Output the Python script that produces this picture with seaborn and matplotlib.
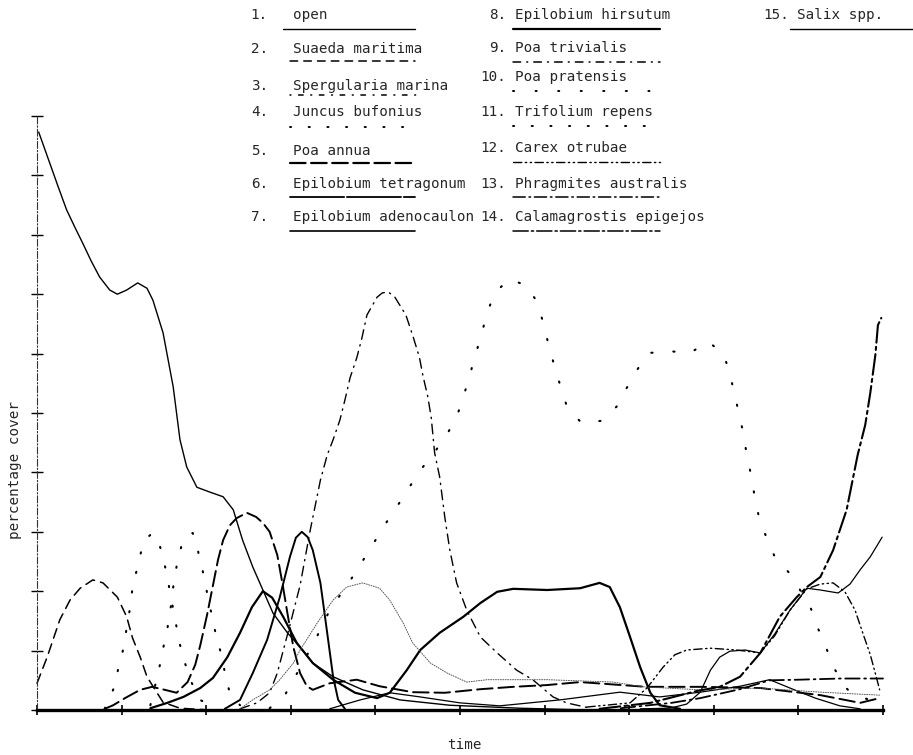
import matplotlib
matplotlib.use("Agg")
import matplotlib.pyplot as plt
from matplotlib.lines import Line2D
import numpy as np
import pandas as pd
import seaborn as sns

# ---------------------------------------------------------------------------
# Percentage cover of each species (and open ground) along the time axis
# ---------------------------------------------------------------------------
t_open = [0.02, 0.15, 0.25, 0.35, 0.45, 0.54, 0.64, 0.74, 0.86, 0.95, 1.06, 1.19, 1.30, 1.37, 1.49,
          1.61, 1.69, 1.77, 1.89, 2.04, 2.20, 2.32, 2.43, 2.55, 2.67, 2.79, 2.96, 3.11, 3.26, 3.50,
          3.85, 4.29, 4.88, 5.71, 6.50]
c_open = [97.3, 92.1, 88.1, 84.2, 81.2, 78.6, 75.6, 72.9, 70.7, 70.0, 70.7, 71.9, 71.0, 69.0, 63.5,
          54.4, 45.5, 40.9, 37.5, 36.7, 35.9, 33.7, 28.6, 24.1, 20.2, 16.3, 13.0, 10.6, 7.9, 5.6,
          3.4, 1.7, 0.8, 0.3, 0.0]

t_suaeda = [0.0, 0.12, 0.27, 0.39, 0.51, 0.66, 0.78, 0.95, 1.06, 1.13, 1.22, 1.30, 1.37, 1.49, 1.69, 2.04]
c_suaeda = [4.5, 8.9, 15.2, 18.5, 20.5, 21.9, 21.4, 19.0, 15.7, 12.1, 8.9, 5.6, 4.0, 1.3, 0.3, 0.0]

t_spergularia = [0.80, 0.90, 0.96, 1.02, 1.06, 1.10, 1.13, 1.19, 1.25, 1.31, 1.35, 1.39, 1.44, 1.48,
                 1.54, 1.58, 1.63, 1.67, 1.73, 1.81, 1.93, 2.10]
c_spergularia = [0.2, 3.4, 6.9, 10.3, 13.8, 17.2, 20.7, 24.2, 27.8, 29.1, 29.6, 29.6, 28.3, 26.1,
                 22.6, 19.0, 15.7, 12.1, 8.8, 5.1, 1.7, 0.3]

t_juncus = [1.34, 1.44, 1.49, 1.54, 1.58, 1.61, 1.65, 1.71, 1.78, 1.84, 1.88, 1.91, 1.97, 2.02, 2.07,
            2.12, 2.19, 2.23, 2.28, 2.40]
c_juncus = [0.8, 6.7, 10.3, 13.6, 17.2, 20.7, 24.2, 27.8, 29.4, 29.8, 28.6, 26.3, 22.7, 19.0, 15.7,
            12.3, 8.8, 5.4, 2.9, 0.8]

t_poa_annua = [0.80, 0.90, 1.04, 1.22, 1.36, 1.51, 1.65, 1.78, 1.87, 1.93, 2.01, 2.08, 2.14, 2.20,
               2.28, 2.36, 2.48, 2.59, 2.67, 2.75, 2.84, 2.90, 2.96, 3.03, 3.11, 3.19, 3.26, 3.46,
               3.78, 4.05, 4.44, 4.82, 5.24, 5.63, 6.03, 6.42, 6.81, 7.20, 7.84, 8.55, 9.26, 9.73, 9.96]
c_poa_annua = [0.2, 0.8, 2.0, 3.4, 3.9, 3.4, 2.9, 4.7, 7.6, 10.9, 16.0, 21.0, 25.3, 28.6,
               31.1, 32.3, 33.2, 32.5, 31.5, 30.0, 26.1, 21.4, 16.3, 10.6, 6.2, 4.0, 3.4, 4.5,
               5.1, 4.0, 3.0, 2.9, 3.5, 3.9, 4.2, 4.7, 4.3, 3.9, 3.9, 3.7, 2.5, 1.2, 2.0]

t_tetragonum = [2.22, 2.40, 2.55, 2.72, 2.87, 2.99, 3.06, 3.13, 3.20, 3.26, 3.35, 3.43, 3.50, 3.56, 3.64]
c_tetragonum = [0.2, 1.7, 6.2, 11.8, 19.0, 25.8, 29.0, 30.0, 29.1, 26.9, 21.4, 13.0, 5.6, 1.7, 0.2]

t_adenocaulon = [3.46, 3.82, 4.17, 4.53, 5.00, 5.47, 6.18, 6.89, 7.36, 7.84, 8.31, 8.66, 8.90, 9.20,
                 9.49, 9.73]
c_adenocaulon = [0.2, 1.7, 2.9, 2.2, 1.2, 0.7, 1.7, 3.0, 2.2, 3.0, 4.0, 5.1, 3.7, 2.0, 0.7, 0.2]

t_hirsutum = [1.34, 1.54, 1.73, 1.93, 2.08, 2.25, 2.40, 2.54, 2.67, 2.78, 2.91, 3.07, 3.26, 3.50,
              3.76, 4.02, 4.17, 4.37, 4.53, 4.76, 5.04, 5.24, 5.44, 5.63, 6.03, 6.42, 6.65, 6.77,
              6.89, 7.01, 7.13, 7.25, 7.36, 7.60]
c_hirsutum = [0.3, 1.2, 2.2, 3.7, 5.4, 8.9, 13.0, 17.3, 20.0, 18.9, 15.7, 11.3, 7.9, 5.1,
              2.9, 2.0, 2.9, 6.7, 10.1, 13.0, 15.7, 18.0, 19.9, 20.4, 20.2, 20.5, 21.4, 20.7,
              17.3, 12.3, 7.2, 2.9, 0.8, 0.2]

t_trivialis = [2.40, 2.60, 2.75, 2.84, 2.99, 3.11, 3.23, 3.35, 3.43, 3.50, 3.58, 3.64, 3.70, 3.78,
               3.84, 3.90, 4.02, 4.08, 4.15, 4.23, 4.36, 4.44, 4.52, 4.56, 4.62, 4.66, 4.70, 4.76,
               4.82, 4.88, 4.96, 5.08, 5.24, 5.44, 5.67, 5.86, 6.10, 6.26, 6.54]
c_trivialis = [0.2, 1.2, 2.9, 6.2, 14.3, 21.0, 30.3, 38.7, 42.9, 45.5, 48.8, 52.2, 55.9, 59.3,
               62.6, 66.5, 69.5, 70.2, 70.4, 69.5, 66.5, 63.1, 59.4, 56.4, 52.7, 49.2, 43.3, 39.2,
               32.5, 26.9, 21.4, 16.8, 12.3, 9.6, 6.7, 5.1, 2.2, 1.2, 0.3]

t_pratensis = [2.75, 2.93, 3.11, 3.29, 3.46, 3.61, 3.74, 3.88, 4.01, 4.14, 4.28, 4.41, 4.55, 4.70,
               4.85, 4.96, 5.04, 5.11, 5.18, 5.25, 5.32, 5.40, 5.58, 5.79, 5.92, 5.99, 6.05, 6.12,
               6.19, 6.27, 6.44, 6.68, 6.86, 6.97, 7.09, 7.23, 7.48, 7.72, 7.93, 8.11, 8.19, 8.24,
               8.30, 8.35, 8.39, 8.44, 8.48, 8.53, 8.62, 8.72, 8.89, 9.02, 9.15, 9.23, 9.33, 9.42,
               9.55, 9.65, 9.85]
c_pratensis = [0.3, 2.5, 7.1, 11.8, 16.8, 19.9, 22.6, 25.8, 28.8, 31.8, 34.8, 37.7, 40.7, 43.4,
               46.5, 49.3, 52.7, 56.1, 59.6, 63.1, 66.7, 70.0, 72.6, 71.4, 68.5, 64.8, 61.3, 57.7,
               54.4, 50.8, 48.3, 48.7, 51.2, 54.2, 57.2, 60.1, 60.4, 60.1, 62.0, 60.1, 56.7, 53.4,
               49.8, 46.5, 42.9, 39.6, 36.2, 32.7, 29.1, 25.8, 23.1, 20.2, 17.0, 13.8, 10.4, 7.1,
               3.9, 2.5, 1.7]

t_trifolium = [2.40, 2.55, 2.75, 2.87, 3.03, 3.11, 3.31, 3.50, 3.66, 3.85, 4.05, 4.17, 4.33, 4.44,
               4.65, 4.85, 5.08, 5.32, 5.63, 6.03, 6.42, 6.81, 7.16, 7.84, 8.55, 9.26, 9.96]
c_trifolium = [0.2, 1.7, 3.4, 5.1, 7.9, 10.1, 14.6, 18.5, 20.7, 21.4, 20.5, 18.5, 14.6, 11.3,
               7.9, 6.2, 4.7, 5.1, 5.1, 5.1, 4.9, 4.7, 3.9, 3.4, 3.7, 3.0, 2.5]

t_carex = [6.50, 7.01, 7.21, 7.40, 7.54, 7.68, 7.96, 8.27, 8.55, 8.72, 8.90, 9.10, 9.26, 9.41, 9.55,
           9.67, 9.76, 9.85, 9.92, 9.96]
c_carex = [0.5, 1.2, 3.7, 7.2, 9.3, 10.1, 10.4, 10.1, 9.6, 12.5, 16.8, 20.4, 21.2, 21.4, 19.9,
           16.8, 13.0, 9.3, 5.6, 3.4]

t_phragmites = [6.90, 7.50, 7.84, 8.31, 8.66, 9.00, 9.50, 10.0]
c_phragmites = [0.3, 1.2, 2.0, 3.5, 5.0, 5.1, 5.3, 5.3]

t_calamagrostis = [6.65, 7.25, 7.80, 8.07, 8.31, 8.55, 8.78, 8.98, 9.10, 9.26, 9.41, 9.57, 9.70,
                   9.79, 9.85, 9.91, 9.94, 9.98]
c_calamagrostis = [0.2, 1.2, 3.2, 3.9, 5.6, 9.6, 15.7, 19.0, 20.7, 22.4, 26.9, 33.7, 42.9,
                   48.0, 53.4, 59.8, 64.8, 66.0]

t_salix = [7.13, 7.48, 7.68, 7.84, 7.96, 8.07, 8.19, 8.37, 8.55, 8.72, 8.90, 9.10, 9.26, 9.47,
           9.61, 9.73, 9.85, 9.99]
c_salix = [0.2, 0.3, 1.0, 3.0, 6.7, 8.9, 9.9, 10.1, 9.6, 12.8, 16.8, 20.5, 20.2, 19.7,
           21.2, 23.6, 25.8, 29.1]

species = ["open", "Suaeda maritima", "Spergularia marina", "Juncus bufonius", "Poa annua",
           "Epilobium tetragonum", "Epilobium adenocaulon", "Epilobium hirsutum", "Poa trivialis",
           "Poa pratensis", "Trifolium repens", "Carex otrubae", "Phragmites australis",
           "Calamagrostis epigejos", "Salix spp."]

series = [
    (t_open, c_open), (t_suaeda, c_suaeda), (t_spergularia, c_spergularia),
    (t_juncus, c_juncus), (t_poa_annua, c_poa_annua), (t_tetragonum, c_tetragonum),
    (t_adenocaulon, c_adenocaulon), (t_hirsutum, c_hirsutum), (t_trivialis, c_trivialis),
    (t_pratensis, c_pratensis), (t_trifolium, c_trifolium), (t_carex, c_carex),
    (t_phragmites, c_phragmites), (t_calamagrostis, c_calamagrostis), (t_salix, c_salix),
]

# line style, width, colour for each curve (same order as species)
styles = [
    ("-", 1.0, "black"),
    ((0, (6.5, 4)), 1.1, "black"),
    ((0, (0.6, 9)), 1.5, "black"),
    ((0, (0.6, 9)), 1.5, "black"),
    ((0, (8, 3)), 1.4, "black"),
    ("-", 1.4, "black"),
    ("-", 0.9, "black"),
    ("-", 1.6, "black"),
    ((0, (7, 4, 1, 4)), 1.0, "black"),
    ((0, (0.6, 10)), 1.5, "black"),
    ((0, (1, 1.5)), 0.7, "#555555"),
    ((0, (6, 2.5, 1, 2.5, 1, 2.5)), 1.0, "black"),
    ((0, (8, 2.5, 1, 2.5)), 1.3, "black"),
    ((0, (10, 2, 1.5, 2)), 1.5, "black"),
    ("-", 0.9, "black"),
]

# samples printed under the names in the key
key_styles = [
    ("-", 1.0), ((0, (5, 4)), 1.1), ((0, (0.6, 5, 3, 5)), 1.1), ((0, (0.6, 9)), 1.4),
    ((0, (7, 2.5)), 1.6), ((0, (30, 1.5)), 1.3), ("-", 1.2), ("-", 1.6),
    ((0, (5, 4, 0.6, 4)), 1.1), ((0, (0.6, 11)), 1.4), ((0, (0.6, 9)), 1.4),
    ((0, (6, 2.5, 1, 2.5, 1, 2.5)), 1.0), ((0, (8, 2.5, 1, 2.5)), 1.1),
    ((0, (10, 2, 1.5, 2)), 1.1), ("-", 1.0),
]

sns.set_theme(style="white")
plt.rcParams["font.family"] = ["DejaVu Sans Mono", "DejaVu Sans"]

W, H = 913, 755
fig = plt.figure(figsize=(W / 100, H / 100), dpi=100)
ax = fig.add_axes([37 / W, 45 / H, 846 / W, 594 / H])

for (t, c), (ls, lw, col) in zip(series, styles):
    df = pd.DataFrame({"time": t, "cover": c})
    sns.lineplot(data=df, x="time", y="cover", ax=ax, color=col, linewidth=lw,
                 linestyle=ls, estimator=None, sort=False, legend=False, clip_on=False,
                 dash_capstyle="round", solid_capstyle="round")

ax.set_xlim(0, 10)
ax.set_ylim(0, 100)
ax.set_xticks(np.arange(0, 11, 1))
ax.set_yticks(np.arange(0, 101, 10))
ax.tick_params(axis="both", which="both", left=True, bottom=True, labelleft=False,
               labelbottom=False, direction="inout", color="black")
ax.tick_params(axis="y", length=8, width=1.0)
ax.tick_params(axis="x", length=7, width=1.2)
for side in ("top", "right"):
    ax.spines[side].set_visible(False)
ax.spines["left"].set_color("#333333")
ax.spines["left"].set_linewidth(0.8)
ax.spines["left"].set_linestyle((0, (6, 2, 1, 2)))
ax.spines["bottom"].set_color("black")
ax.spines["bottom"].set_linewidth(2.4)
ax.set_xlabel("")
ax.set_ylabel("")
ax.patch.set_alpha(0)

fs = 10.3
fig.text(464 / W, 1 - 745 / H, "time", ha="center", va="center", fontsize=fs)
fig.text(15 / W, 1 - 470 / H, "percentage cover", ha="center", va="center",
         rotation=90, fontsize=fs)

# key: number, name, and a short sample of each line style beneath the name
key_layout = [
    # (num right edge px, name left px, text y px, sample x0, sample x1, sample y)
    (268, 293, 15, 283, 415, 29),
    (268, 293, 49, 290, 415, 61),
    (268, 293, 86, 290, 418, 95),
    (268, 293, 112, 290, 418, 127),
    (268, 293, 151, 290, 415, 163),
    (268, 293, 184, 290, 415, 197),
    (268, 293, 217, 290, 415, 231),
    (506, 515, 15, 513, 660, 29),
    (506, 515, 48, 513, 660, 62),
    (506, 515, 77, 513, 660, 91),
    (506, 515, 112, 513, 660, 126),
    (506, 515, 148, 513, 660, 162),
    (506, 515, 184, 513, 660, 197),
    (506, 515, 217, 513, 660, 231),
    (789, 797, 15, 790, 913, 29),
]

for i, (name, (nx, tx, ty, x0, x1, y0), (ls, lw)) in enumerate(zip(species, key_layout, key_styles)):
    fig.text(nx / W, 1 - ty / H, f"{i + 1}.", ha="right", va="center", fontsize=fs)
    fig.text(tx / W, 1 - ty / H, name, ha="left", va="center", fontsize=fs)
    fig.add_artist(Line2D([x0 / W, x1 / W], [1 - y0 / H, 1 - y0 / H], transform=fig.transFigure,
                          color="black", linewidth=lw, linestyle=ls, dash_capstyle="round"))

fig.savefig("out.png", dpi=100, facecolor="white")
